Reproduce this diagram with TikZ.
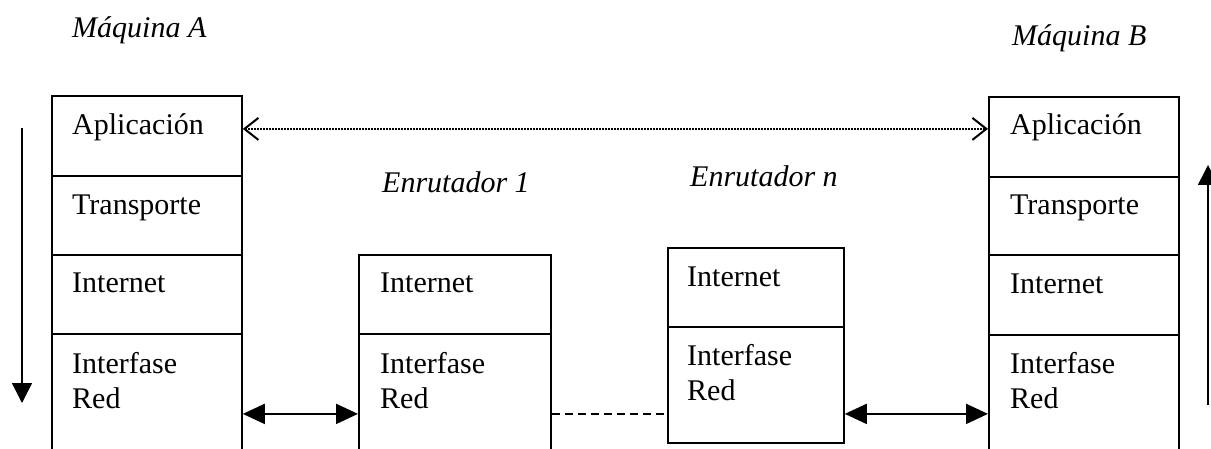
\documentclass[tikz,border=0pt]{standalone}
\usepackage{fontspec}
\setmainfont{Liberation Serif}
\usetikzlibrary{arrows.meta}
\begin{document}
\begin{tikzpicture}[x=1pt,y=-1pt,
  cell/.style={draw, line width=1.8pt, rectangle, anchor=north west,
    inner sep=0pt, minimum width=190pt},
  lbl/.style={anchor=base west, inner sep=0pt, font=\fontsize{30}{35}\selectfont},
  title/.style={anchor=base west, inner sep=0pt, font=\fontsize{30}{35}\selectfont\itshape},
  peer/.style={line width=1.4pt, dash pattern=on 1.6pt off 1.4pt,
    {Straight Barb[length=14pt,width=22pt,line width=2pt]}-{Straight Barb[length=14pt,width=22pt,line width=2pt]}},
  link/.style={line width=2pt, {Triangle[length=22pt,width=20pt]}-{Triangle[length=22pt,width=20pt]}},
  hop/.style={line width=1.8pt, dash pattern=on 8pt off 5pt},
  flow/.style={line width=1.6pt, -{Triangle[length=20pt,width=20pt]}}
]
\fill[white] (0,0) rectangle (1211,449);
\useasboundingbox (0,0) rectangle (1211,449);
\clip (0,0) rectangle (1211,449);

% host A stack
\node[cell, minimum height=80pt] (a1) at (51,95) {};
\node[cell, minimum height=79pt] (a2) at (51,175) {};
\node[cell, minimum height=79pt] (a3) at (51,254) {};
\node[cell, minimum height=160pt] (a4) at (51,333) {};

% router 1
\node[cell, minimum width=192pt, minimum height=79pt] (r1) at (358,254) {};
\node[cell, minimum width=192pt, minimum height=160pt] (r2) at (358,333) {};

% router n
\node[cell, minimum width=176pt, minimum height=79pt] (n1) at (667,247) {};
\node[cell, minimum width=176pt, minimum height=116pt] (n2) at (667,326) {};

% host B stack
\node[cell, minimum height=80pt] (b1) at (988,96) {};
\node[cell, minimum height=78pt] (b2) at (988,176) {};
\node[cell, minimum height=80pt] (b3) at (988,254) {};
\node[cell, minimum height=158pt] (b4) at (988,334) {};

% layer names
\node[lbl] (ta1) at ([shift={(21,40)}]a1.north west) {Aplicación};
\node[lbl] (ta2) at ([shift={(21,40)}]a2.north west) {Transporte};
\node[lbl] (ta3) at ([shift={(21,39)}]a3.north west) {Internet};
\node[lbl] (ta4) at ([shift={(21,40)}]a4.north west) {Interfase};
\node[lbl] (ta5) at ([shift={(21,75)}]a4.north west) {Red};

\node[lbl] (tr1) at ([shift={(22,39)}]r1.north west) {Internet};
\node[lbl] (tr2) at ([shift={(22,40)}]r2.north west) {Interfase};
\node[lbl] (tr3) at ([shift={(22,75)}]r2.north west) {Red};

\node[lbl] (tn1) at ([shift={(20,40)}]n1.north west) {Internet};
\node[lbl] (tn2) at ([shift={(20,39)}]n2.north west) {Interfase};
\node[lbl] (tn3) at ([shift={(20,74)}]n2.north west) {Red};

\node[lbl] (tb1) at ([shift={(22,39)}]b1.north west) {Aplicación};
\node[lbl] (tb2) at ([shift={(22,39)}]b2.north west) {Transporte};
\node[lbl] (tb3) at ([shift={(22,40)}]b3.north west) {Internet};
\node[lbl] (tb4) at ([shift={(22,39)}]b4.north west) {Interfase};
\node[lbl] (tb5) at ([shift={(22,74)}]b4.north west) {Red};

% titles
\node[title] (ma) at (72,38) {Máquina A};
\node[title] (mb) at (1012,46) {Máquina B};
\node[title] (e1) at (382,193) {Enrutador 1};
\node[title] (en) at (690,187) {Enrutador n};

% application-level peer link
\coordinate (pa) at ([yshift=7pt]a1.east);
\draw[peer] (pa) -- (pa -| b1.west);

% physical links
\draw[link] (a4.east) -- (r2.west);
\draw[hop] (r2.east) -- (r2.east -| n2.west);
\draw[link] (n2.east |- b4.west) -- (b4.west);

% direction of travel through the stacks
\coordinate (dtop) at (22,128);
\coordinate (dbot) at (22,403);
\draw[flow] (dtop) -- (dbot);
\coordinate (ubot) at (1208,405);
\coordinate (utop) at (1208,165);
\draw[flow] (ubot) -- (utop);
\end{tikzpicture}
\end{document}
